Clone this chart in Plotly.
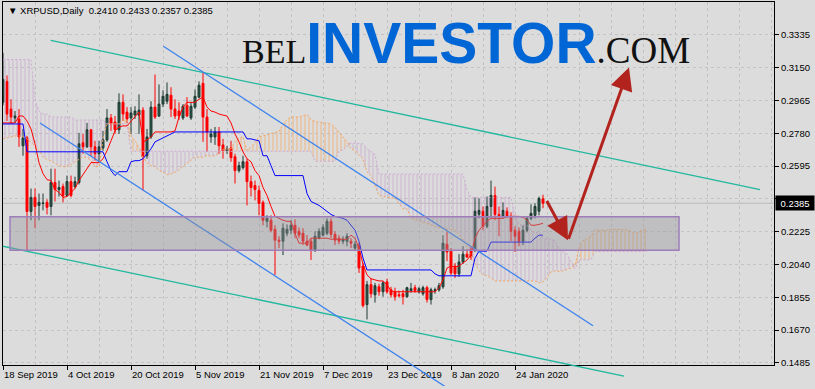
import numpy as np
import pandas as pd
import plotly.graph_objects as go

FIRST_DAY = "2019-09-18"

opens = [0.2954, 0.3072, 0.2916, 0.2866, 0.2860, 0.2709, 0.2754, 0.2339, 0.2418, 0.2373,
         0.2384, 0.2390, 0.2367, 0.2502, 0.2462, 0.2479, 0.2429, 0.2507, 0.2479, 0.2502,
         0.2726, 0.2703, 0.2799, 0.2703, 0.2664, 0.2697, 0.2742, 0.2866, 0.2843, 0.2799,
         0.2954, 0.2899, 0.2866, 0.2882, 0.2882, 0.2910, 0.2653, 0.2759, 0.2927, 0.2877,
         0.2944, 0.2960, 0.2994, 0.2916, 0.2905, 0.2866, 0.2937, 0.2866, 0.2927, 0.2983,
         0.3061, 0.2871, 0.2759, 0.2759, 0.2787, 0.2714, 0.2681, 0.2697, 0.2647, 0.2569,
         0.2586, 0.2619, 0.2507, 0.2485, 0.2457, 0.2390, 0.2283, 0.2289, 0.2238, 0.2177,
         0.2171, 0.2216, 0.2233, 0.2261, 0.2227, 0.2216, 0.2171, 0.2171, 0.2121, 0.2188,
         0.2205, 0.2216, 0.2283, 0.2210, 0.2188, 0.2171, 0.2171, 0.2171, 0.2132, 0.2149,
         0.2031, 0.1814, 0.1926, 0.1869, 0.1914, 0.1886, 0.1942, 0.1897, 0.1886, 0.1869,
         0.1875, 0.1858, 0.1892, 0.1909, 0.1886, 0.1875, 0.1909, 0.1842, 0.1892, 0.1897,
         0.1914, 0.2154, 0.2115, 0.2031, 0.1987, 0.2054, 0.2098, 0.2126, 0.2121, 0.2323,
         0.2340, 0.2255, 0.2367, 0.2429, 0.2322, 0.2311, 0.2340, 0.2311, 0.2233, 0.2227,
         0.2171, 0.2233, 0.2300, 0.2317, 0.2340, 0.2410]
highs = [0.3234, 0.3106, 0.2971, 0.2905, 0.2916, 0.2804, 0.2765, 0.2468, 0.2468, 0.2440,
         0.2440, 0.2407, 0.2580, 0.2580, 0.2513, 0.2496, 0.2541, 0.2541, 0.2535, 0.2782,
         0.2776, 0.2838, 0.2804, 0.2737, 0.2737, 0.2793, 0.2916, 0.2888, 0.2877, 0.3005,
         0.2999, 0.2927, 0.2927, 0.2932, 0.2999, 0.2927, 0.2804, 0.2960, 0.3111, 0.3055,
         0.3022, 0.3066, 0.3039, 0.2971, 0.2954, 0.2944, 0.2983, 0.2954, 0.3027, 0.3072,
         0.3122, 0.2916, 0.2804, 0.2815, 0.2815, 0.2748, 0.2709, 0.2737, 0.2664, 0.2619,
         0.2653, 0.2636, 0.2541, 0.2513, 0.2485, 0.2401, 0.2317, 0.2317, 0.2261, 0.2199,
         0.2272, 0.2266, 0.2289, 0.2294, 0.2249, 0.2244, 0.2205, 0.2188, 0.2227, 0.2244,
         0.2266, 0.2300, 0.2300, 0.2227, 0.2205, 0.2199, 0.2216, 0.2188, 0.2171, 0.2165,
         0.2048, 0.1947, 0.1964, 0.1936, 0.1931, 0.1947, 0.1959, 0.1914, 0.1909, 0.1892,
         0.1897, 0.1914, 0.1936, 0.1925, 0.1914, 0.1920, 0.1920, 0.1909, 0.1909, 0.1936,
         0.2205, 0.2227, 0.2132, 0.2048, 0.2098, 0.2143, 0.2127, 0.2143, 0.2418, 0.2412,
         0.2367, 0.2423, 0.2513, 0.2479, 0.2367, 0.2390, 0.2362, 0.2334, 0.2255, 0.2249,
         0.2261, 0.2311, 0.2379, 0.2384, 0.2423, 0.2433]
lows = [0.2937, 0.2849, 0.2832, 0.2838, 0.2703, 0.2653, 0.2121, 0.2289, 0.2244, 0.2289,
        0.2345, 0.2322, 0.2317, 0.2395, 0.2423, 0.2390, 0.2423, 0.2418, 0.2468, 0.2491,
        0.2664, 0.2697, 0.2653, 0.2625, 0.2619, 0.2681, 0.2731, 0.2793, 0.2776, 0.2776,
        0.2849, 0.2838, 0.2776, 0.2860, 0.2776, 0.2457, 0.2636, 0.2748, 0.2860, 0.2871,
        0.2927, 0.2944, 0.2871, 0.2860, 0.2855, 0.2855, 0.2871, 0.2855, 0.2916, 0.2977,
        0.2731, 0.2675, 0.2726, 0.2714, 0.2664, 0.2636, 0.2664, 0.2619, 0.2496, 0.2558,
        0.2575, 0.2373, 0.2423, 0.2401, 0.2317, 0.2261, 0.2249, 0.2221, 0.1981, 0.2132,
        0.2093, 0.2199, 0.2210, 0.2188, 0.2188, 0.2149, 0.2143, 0.2065, 0.2110, 0.2182,
        0.2199, 0.2205, 0.2188, 0.2149, 0.2154, 0.2154, 0.2143, 0.2132, 0.2115, 0.1992,
        0.1797, 0.1730, 0.1853, 0.1825, 0.1864, 0.1858, 0.1875, 0.1853, 0.1836, 0.1853,
        0.1814, 0.1853, 0.1881, 0.1881, 0.1875, 0.1864, 0.1825, 0.1814, 0.1875, 0.1886,
        0.1903, 0.2059, 0.1981, 0.1964, 0.1970, 0.2042, 0.2076, 0.2065, 0.2110, 0.2300,
        0.2233, 0.2244, 0.2300, 0.2289, 0.2199, 0.2300, 0.2300, 0.2171, 0.2110, 0.2143,
        0.2149, 0.2221, 0.2289, 0.2300, 0.2317, 0.2357]
closes = [0.3083, 0.2888, 0.2871, 0.2877, 0.2759, 0.2754, 0.2339, 0.2418, 0.2367, 0.2390,
          0.2386, 0.2362, 0.2502, 0.2462, 0.2474, 0.2429, 0.2507, 0.2429, 0.2507, 0.2720,
          0.2703, 0.2799, 0.2703, 0.2664, 0.2703, 0.2742, 0.2866, 0.2832, 0.2799, 0.2954,
          0.2888, 0.2860, 0.2894, 0.2905, 0.2910, 0.2647, 0.2759, 0.2927, 0.2871, 0.2944,
          0.2988, 0.2999, 0.2916, 0.2877, 0.2877, 0.2932, 0.2877, 0.2932, 0.2988, 0.3050,
          0.2871, 0.2787, 0.2776, 0.2787, 0.2709, 0.2681, 0.2692, 0.2642, 0.2569, 0.2597,
          0.2619, 0.2507, 0.2474, 0.2462, 0.2384, 0.2289, 0.2300, 0.2233, 0.2177, 0.2171,
          0.2244, 0.2238, 0.2261, 0.2216, 0.2205, 0.2171, 0.2149, 0.2121, 0.2199, 0.2227,
          0.2249, 0.2283, 0.2210, 0.2177, 0.2171, 0.2182, 0.2199, 0.2160, 0.2154, 0.2020,
          0.1808, 0.1926, 0.1875, 0.1920, 0.1886, 0.1936, 0.1886, 0.1869, 0.1858, 0.1864,
          0.1858, 0.1909, 0.1903, 0.1892, 0.1903, 0.1909, 0.1842, 0.1897, 0.1897, 0.1920,
          0.2160, 0.2110, 0.1992, 0.1987, 0.2054, 0.2098, 0.2082, 0.2081, 0.2340, 0.2345,
          0.2255, 0.2367, 0.2429, 0.2322, 0.2311, 0.2345, 0.2311, 0.2227, 0.2199, 0.2171,
          0.2233, 0.2300, 0.2328, 0.2367, 0.2412, 0.2385]

tenkan = [0.2838, 0.2838, 0.2838, 0.2838, 0.2877, 0.2877, 0.2849, 0.2804, 0.2720, 0.2614,
          0.2552, 0.2518, 0.2513, 0.2462, 0.2446, 0.2418, 0.2423, 0.2446, 0.2468, 0.2513,
          0.2547, 0.2580, 0.2614, 0.2614, 0.2614, 0.2636, 0.2681, 0.2737, 0.2793, 0.2815,
          0.2821, 0.2821, 0.2849, 0.2877, 0.2899, 0.2731, 0.2742, 0.2759, 0.2787, 0.2787,
          0.2787, 0.2787, 0.2787, 0.2793, 0.2871, 0.2927, 0.2954, 0.2954, 0.2954, 0.2971,
          0.2983, 0.2927, 0.2905, 0.2899, 0.2888, 0.2882, 0.2877, 0.2838, 0.2776, 0.2731,
          0.2675, 0.2636, 0.2619, 0.2569, 0.2541, 0.2474, 0.2429, 0.2367, 0.2311, 0.2300,
          0.2289, 0.2283, 0.2283, 0.2216, 0.2160, 0.2160, 0.2160, 0.2188, 0.2188, 0.2188,
          0.2188, 0.2188, 0.2182, 0.2182, 0.2182, 0.2182, 0.2182, 0.2205, 0.2188, 0.2132,
          0.2042, 0.1981, 0.1959, 0.1953, 0.1947, 0.1947, 0.1925, 0.1892, 0.1886, 0.1886,
          0.1886, 0.1886, 0.1886, 0.1886, 0.1886, 0.1886, 0.1886, 0.1886, 0.1886, 0.1909,
          0.1953, 0.2020, 0.2031, 0.2026, 0.2031, 0.2048, 0.2065, 0.2093, 0.2188, 0.2233,
          0.2261, 0.2283, 0.2300, 0.2300, 0.2300, 0.2300, 0.2311, 0.2311, 0.2311, 0.2311,
          0.2306, 0.2289, 0.2261, 0.2261, 0.2266, 0.2272]
kijun = [0.2832, 0.2832, 0.2832, 0.2832, 0.2832, 0.2832, 0.2675, 0.2675, 0.2675, 0.2675,
         0.2675, 0.2675, 0.2675, 0.2675, 0.2675, 0.2675, 0.2675, 0.2675, 0.2675, 0.2675,
         0.2675, 0.2675, 0.2675, 0.2675, 0.2675, 0.2675, 0.2619, 0.2569, 0.2541, 0.2563,
         0.2563, 0.2563, 0.2619, 0.2625, 0.2625, 0.2636, 0.2664, 0.2692, 0.2731, 0.2742,
         0.2753, 0.2765, 0.2776, 0.2787, 0.2787, 0.2787, 0.2787, 0.2787, 0.2787, 0.2787,
         0.2787, 0.2787, 0.2787, 0.2787, 0.2787, 0.2787, 0.2787, 0.2787, 0.2787, 0.2787,
         0.2787, 0.2748, 0.2748, 0.2742, 0.2737, 0.2653, 0.2653, 0.2597, 0.2541, 0.2541,
         0.2541, 0.2541, 0.2541, 0.2541, 0.2541, 0.2541, 0.2440, 0.2395, 0.2384, 0.2373,
         0.2356, 0.2339, 0.2322, 0.2311, 0.2306, 0.2300, 0.2289, 0.2261, 0.2233, 0.2171,
         0.2076, 0.2009, 0.2009, 0.2009, 0.2009, 0.2009, 0.2009, 0.2009, 0.2009, 0.2009,
         0.2009, 0.2009, 0.2009, 0.2009, 0.2009, 0.2009, 0.2009, 0.2009, 0.1987, 0.1976,
         0.1976, 0.1976, 0.1976, 0.1976, 0.1976, 0.1976, 0.1976, 0.1976, 0.2076, 0.2115,
         0.2115, 0.2115, 0.2166, 0.2166, 0.2166, 0.2166, 0.2166, 0.2166, 0.2166, 0.2166,
         0.2166, 0.2166, 0.2166, 0.2188, 0.2205, 0.2205]

span_a = [0.2748, 0.2754, 0.2759, 0.2765, 0.2765, 0.2759, 0.2748, 0.2731, 0.2709, 0.2681,
          0.2647, 0.2630, 0.2625, 0.2608, 0.2597, 0.2591, 0.2591, 0.2603, 0.2619, 0.2636,
          0.2647, 0.2642, 0.2625, 0.2591, 0.2591, 0.2748, 0.2835, 0.2835, 0.2835, 0.2835,
          0.2854, 0.2854, 0.2762, 0.2739, 0.2698, 0.2644, 0.2614, 0.2597, 0.2594, 0.2569,
          0.2560, 0.2546, 0.2549, 0.2560, 0.2572, 0.2594, 0.2611, 0.2628, 0.2644, 0.2644,
          0.2644, 0.2656, 0.2650, 0.2653, 0.2667, 0.2689, 0.2692, 0.2692, 0.2734, 0.2751,
          0.2762, 0.2683, 0.2703, 0.2726, 0.2759, 0.2765, 0.2770, 0.2776, 0.2782, 0.2790,
          0.2829, 0.2857, 0.2871, 0.2871, 0.2871, 0.2879, 0.2885, 0.2857, 0.2846, 0.2843,
          0.2838, 0.2835, 0.2832, 0.2812, 0.2782, 0.2759, 0.2731, 0.2692, 0.2683, 0.2656,
          0.2639, 0.2563, 0.2541, 0.2482, 0.2429, 0.2423, 0.2418, 0.2415, 0.2415, 0.2381,
          0.2353, 0.2353, 0.2300, 0.2292, 0.2286, 0.2280, 0.2272, 0.2264, 0.2252, 0.2247,
          0.2244, 0.2241, 0.2236, 0.2233, 0.2210, 0.2177, 0.2138, 0.2088, 0.2043, 0.2004,
          0.1981, 0.1976, 0.1964, 0.1947, 0.1947, 0.1947, 0.1947, 0.1947, 0.1947, 0.1947,
          0.1947, 0.1947, 0.1947, 0.1947, 0.1936, 0.1942, 0.1964, 0.1998, 0.2004, 0.2001,
          0.2004, 0.2012, 0.2020, 0.2034, 0.2132, 0.2174, 0.2188, 0.2199, 0.2233, 0.2233,
          0.2233, 0.2233, 0.2238, 0.2238, 0.2238, 0.2238, 0.2236, 0.2227, 0.2213, 0.2224,
          0.2236, 0.2238]
span_b = [0.3195, 0.3195, 0.3195, 0.3195, 0.3195, 0.3195, 0.3195, 0.3195, 0.2971, 0.2905,
          0.2888, 0.2888, 0.2871, 0.2871, 0.2871, 0.2871, 0.2871, 0.2871, 0.2854, 0.2854,
          0.2854, 0.2854, 0.2854, 0.2854, 0.2854, 0.2854, 0.2832, 0.2832, 0.2832, 0.2832,
          0.2832, 0.2832, 0.2678, 0.2678, 0.2678, 0.2678, 0.2678, 0.2678, 0.2678, 0.2678,
          0.2678, 0.2678, 0.2678, 0.2678, 0.2678, 0.2678, 0.2678, 0.2678, 0.2678, 0.2678,
          0.2678, 0.2678, 0.2678, 0.2678, 0.2678, 0.2678, 0.2678, 0.2678, 0.2678, 0.2678,
          0.2678, 0.2678, 0.2678, 0.2678, 0.2678, 0.2678, 0.2678, 0.2678, 0.2678, 0.2678,
          0.2678, 0.2678, 0.2678, 0.2678, 0.2678, 0.2678, 0.2678, 0.2678, 0.2622, 0.2622,
          0.2622, 0.2622, 0.2622, 0.2622, 0.2683, 0.2683, 0.2706, 0.2723, 0.2723, 0.2720,
          0.2720, 0.2692, 0.2675, 0.2661, 0.2549, 0.2549, 0.2549, 0.2549, 0.2549, 0.2549,
          0.2549, 0.2549, 0.2549, 0.2549, 0.2549, 0.2549, 0.2549, 0.2549, 0.2549, 0.2549,
          0.2549, 0.2549, 0.2549, 0.2549, 0.2549, 0.2549, 0.2460, 0.2418, 0.2418, 0.2418,
          0.2418, 0.2418, 0.2418, 0.2418, 0.2418, 0.2418, 0.2418, 0.2418, 0.2314, 0.2264,
          0.2264, 0.2264, 0.2230, 0.2222, 0.2222, 0.2188, 0.2183, 0.2183, 0.2174, 0.2127,
          0.2113, 0.2099, 0.2057, 0.2015, 0.2065, 0.2065, 0.2065, 0.2068, 0.2113, 0.2113,
          0.2113, 0.2113, 0.2113, 0.2113, 0.2113, 0.2113, 0.2113, 0.2113, 0.2113, 0.2113,
          0.2113, 0.2113]

y_ticks = [0.1485, 0.1670, 0.1855, 0.2040, 0.2225, 0.2410, 0.2595, 0.2780, 0.2965, 0.3150, 0.3335]
x_tick_dates = ["2019-09-18", "2019-10-04", "2019-10-20", "2019-11-05", "2019-11-21",
                "2019-12-07", "2019-12-23", "2020-01-08", "2020-01-24"]
x_tick_labels = ["18 Sep 2019", "4 Oct 2019", "20 Oct 2019", "5 Nov 2019", "21 Nov 2019",
                 "7 Dec 2019", "23 Dec 2019", "8 Jan 2020", "24 Jan 2020"]

# drawn objects (date, price anchors)
teal_upper_dates = ["2019-09-29 22:20", "2020-03-25 06:00"]
teal_upper_prices = [0.3303, 0.2462]
teal_lower_dates = ["2019-09-17 06:00", "2020-02-20 06:00"]
teal_lower_prices = [0.2146, 0.1411]
blue_upper_dates = ["2019-10-28 02:00", "2020-02-12 12:00"]
blue_upper_prices = [0.3270, 0.1694]
blue_lower_dates = ["2019-09-27 06:00", "2020-01-10 06:00"]
blue_lower_prices = [0.2837, 0.1297]
zone_dates = ["2019-09-19 18:00", "2020-03-05 00:00"]
zone_prices = [0.21194, 0.23096]
arrow_dates = ["2020-01-31 18:00", "2020-02-06 06:00", "2020-02-21 12:00"]
arrow_prices = [0.2406, 0.2177, 0.3150]

X_RANGE = ["2019-09-18 00:00", "2020-03-28 18:00"]
Y_RANGE = [0.14722, 0.35196]

dates = pd.date_range(FIRST_DAY, periods=len(closes), freq="D")
cloud_dates = pd.date_range(FIRST_DAY, periods=len(span_a), freq="D")

W, H = 815, 389
M_L, M_R, M_T, M_B = 3, 41, 2, 0
AXIS_GAP = 21  # px under the price pane for the time scale
plot_h = H - M_T - M_B
upp = (Y_RANGE[1] - Y_RANGE[0]) / (plot_h - AXIS_GAP)
Y2_RANGE = [Y_RANGE[0] - AXIS_GAP * upp, Y_RANGE[1]]

BG = "#DCDCDC"
GRID = "#C3C3C3"
FONT = "Liberation Sans"

fig = go.Figure()

sa = np.array(span_a)
sb = np.array(span_b)
top = np.maximum(sa, sb)

# bullish cloud (span A above span B)
fig.add_trace(go.Scatter(x=cloud_dates, y=sb, mode="lines", line=dict(width=0),
                         hoverinfo="skip", showlegend=False))
fig.add_trace(go.Scatter(x=cloud_dates, y=top, mode="lines", line=dict(width=0),
                         fill="tonexty", fillcolor="rgba(0,0,0,0)",
                         fillpattern=dict(shape="|", fgcolor="#F4A460", fgopacity=0.7,
                                          bgcolor="rgba(0,0,0,0)", size=4, solidity=0.25,
                                          fillmode="replace"),
                         hoverinfo="skip", showlegend=False))
# bearish cloud (span B above span A)
fig.add_trace(go.Scatter(x=cloud_dates, y=sa, mode="lines", line=dict(width=0),
                         hoverinfo="skip", showlegend=False))
fig.add_trace(go.Scatter(x=cloud_dates, y=top, mode="lines", line=dict(width=0),
                         fill="tonexty", fillcolor="rgba(0,0,0,0)",
                         fillpattern=dict(shape="|", fgcolor="#C6A4CC", fgopacity=0.7,
                                          bgcolor="rgba(0,0,0,0)", size=4, solidity=0.25,
                                          fillmode="replace"),
                         hoverinfo="skip", showlegend=False))
fig.add_trace(go.Scatter(x=cloud_dates, y=sa, mode="lines",
                         line=dict(color="#F4A460", width=1, dash="2px,2px"),
                         hoverinfo="skip", showlegend=False))
fig.add_trace(go.Scatter(x=cloud_dates, y=sb, mode="lines",
                         line=dict(color="#CDAAD2", width=1, dash="2px,2px"),
                         hoverinfo="skip", showlegend=False))

fig.add_trace(go.Candlestick(
    x=dates, open=opens, high=highs, low=lows, close=closes,
    increasing=dict(line=dict(color="#1D3A32", width=1), fillcolor="#2E5A4C"),
    decreasing=dict(line=dict(color="#FF0000", width=1), fillcolor="#FF0000"),
    whiskerwidth=0, hoverinfo="skip", showlegend=False))

fig.add_trace(go.Scatter(x=dates, y=tenkan, mode="lines", line=dict(color="#FF0000", width=1),
                         hoverinfo="skip", showlegend=False))
fig.add_trace(go.Scatter(x=dates, y=kijun, mode="lines", line=dict(color="#0000FF", width=1),
                         hoverinfo="skip", showlegend=False))

# trend lines on a full-height overlay pane (they run into the time scale)
for dd, pp, col in [(teal_upper_dates, teal_upper_prices, "#20B89E"),
                    (teal_lower_dates, teal_lower_prices, "#20B89E"),
                    (blue_upper_dates, blue_upper_prices, "#3C82EE"),
                    (blue_lower_dates, blue_lower_prices, "#3C82EE")]:
    fig.add_trace(go.Scatter(x=dd, y=pp, mode="lines", xaxis="x2", yaxis="y2",
                             line=dict(color=col, width=1.3),
                             hoverinfo="skip", showlegend=False))

fig.update_layout(
    width=W, height=H,
    margin=dict(l=M_L, r=M_R, t=M_T, b=M_B),
    paper_bgcolor=BG, plot_bgcolor="rgba(0,0,0,0)",
    showlegend=False,
    font=dict(family=FONT, size=9.5, color="#000000"),
    xaxis=dict(domain=[0, 1], anchor="y", type="date", range=X_RANGE,
               rangeslider=dict(visible=False),
               tickmode="array", tickvals=x_tick_dates, ticktext=x_tick_labels,
               ticks="outside", ticklen=4, tickcolor="#000000",
               ticklabelposition="outside right",
               tickfont=dict(family=FONT, size=9.5, color="#000000"),
               showline=True, linecolor="#000000", linewidth=1, mirror=True,
               showgrid=True, gridcolor=GRID, griddash="3px,3px", gridwidth=1,
               minor=dict(tickmode="linear", tick0=FIRST_DAY, dtick=8 * 86400000,
                          showgrid=True, gridcolor=GRID, griddash="3px,3px",
                          gridwidth=1, ticks=""),
               zeroline=False, fixedrange=True),
    yaxis=dict(domain=[AXIS_GAP / plot_h, 1], anchor="x", side="right", range=Y_RANGE,
               tickmode="array", tickvals=y_ticks, ticktext=[f"{v:.4f}" for v in y_ticks],
               ticks="outside", ticklen=4, tickcolor="#000000",
               tickfont=dict(family=FONT, size=9.5, color="#000000"),
               showline=True, linecolor="#000000", linewidth=1, mirror=True,
               showgrid=True, gridcolor=GRID, griddash="3px,3px", gridwidth=1,
               zeroline=False, fixedrange=True),
    xaxis2=dict(domain=[0, 1], anchor="y2", type="date", range=X_RANGE, visible=False,
                fixedrange=True),
    yaxis2=dict(domain=[0, 1], anchor="x2", range=Y2_RANGE, visible=False, fixedrange=True),
)

# current price line
fig.add_shape(type="line", xref="paper", x0=0, x1=1, yref="y", y0=closes[-1], y1=closes[-1],
              line=dict(color="#B9B9B9", width=1), layer="below")

# support zone rectangle
fig.add_shape(type="rect", xref="x", yref="y",
              x0=zone_dates[0], x1=zone_dates[1], y0=zone_prices[0], y1=zone_prices[1],
              fillcolor="rgba(150,150,154,0.42)", line=dict(color="#9D7DBA", width=1.5),
              layer="above")

# arrows
for i in range(2):
    fig.add_annotation(x=arrow_dates[i + 1], y=arrow_prices[i + 1], xref="x", yref="y",
                       ax=arrow_dates[i], ay=arrow_prices[i], axref="x", ayref="y",
                       text="", showarrow=True, arrowhead=2, arrowsize=1.5,
                       arrowwidth=3, arrowcolor="#B3231E", standoff=0, startstandoff=0)

# symbol header
fig.add_annotation(
    x=(6 - M_L) / (W - M_L - M_R), y=(H - 11) / plot_h, xref="paper", yref="paper",
    xanchor="left", yanchor="middle", showarrow=False,
    text="▼ XRPUSD,Daily\u00a0\u00a0" + " ".join(f"{v:.4f}" for v in
                                                (opens[-1], highs[-1], lows[-1], closes[-1])),
    font=dict(family=FONT, size=9.5, color="#000000"))

# current price tag
fig.add_annotation(x=1, y=closes[-1], xref="paper", yref="y", xanchor="left", yanchor="middle",
                   xshift=1, showarrow=False, text=f"{closes[-1]:.4f}", width=36, height=12,
                   bgcolor="#000000", font=dict(family=FONT, size=9.5, color="#FFFFFF"))

# watermark
fig.add_annotation(
    x=(240 - M_L) / (W - M_L - M_R), y=(H - 78) / plot_h, xref="paper", yref="paper",
    xanchor="left", yanchor="bottom", showarrow=False,
    text=('<span style="font-family:Liberation Serif;font-size:34px;color:#111111">BEL</span>'
          '<span style="font-family:Liberation Sans;font-weight:bold;font-size:57px;color:#0066D6">INVESTOR</span>'
          '<span style="font-family:Liberation Serif;font-size:37px;color:#111111">.COM</span>'),
    font=dict(family="Liberation Sans", size=30, color="#111111"))

fig.write_html("out.html")
